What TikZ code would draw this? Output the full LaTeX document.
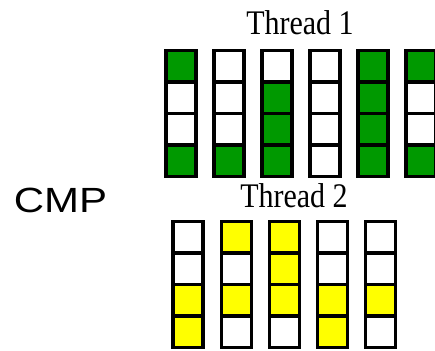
\documentclass[tikz,border=0pt]{standalone}
\usepackage{fontspec}
\setmainfont{Liberation Serif}
\newfontfamily\labelsans{Liberation Sans}
% slot fill colours: G = issued by thread 1, Y = issued by thread 2, W = empty
\definecolor{G}{RGB}{0,153,0}
\definecolor{Y}{RGB}{255,255,0}
\definecolor{W}{RGB}{255,255,255}
\begin{document}
\begin{tikzpicture}[x=1pt,y=-1pt,
  slot/.style={draw=black, line width=3.2pt, rectangle, inner sep=0pt,
    minimum width=30pt, minimum height=31.5pt},
  title/.style={font=\fontsize{30}{30}\selectfont, inner sep=0pt, anchor=base, yscale=1.15}]
\useasboundingbox (0,0) rectangle (435,350);

% thread 1: six issue columns, four slots each (top to bottom)
\foreach \pat [count=\i] in {{G,W,W,G},{W,W,W,G},{W,G,G,G},{W,W,W,W},{G,G,G,G},{G,W,W,G}}{
  \foreach \f [count=\j] in \pat {
    \node[slot, fill=\f] (a\i-\j) at ({181+48*(\i-1)}, {66.25+31.5*(\j-1)}) {};
  }
}

% thread 2: five issue columns
\foreach \pat [count=\i] in {{W,W,Y,Y},{Y,W,Y,W},{Y,Y,Y,W},{W,W,Y,Y},{W,W,Y,W}}{
  \foreach \f [count=\j] in \pat {
    \node[slot, fill=\f] (b\i-\j) at ({188+48.2*(\i-1)}, {237.25+31.5*(\j-1)}) {};
  }
}

\node[title] (t1) at (300,35) {Thread 1};
\node[title] (t2) at (294,207) {Thread 2};
\node[font=\labelsans\fontsize{35}{35}\selectfont, inner sep=0pt, anchor=base, xscale=1.2] (cmp) at (60.5,212) {CMP};
\end{tikzpicture}
\end{document}
